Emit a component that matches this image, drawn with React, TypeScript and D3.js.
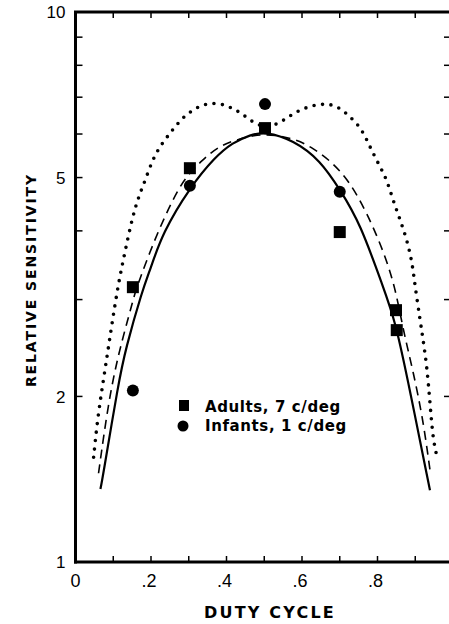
import React from "react";
import * as d3 from "d3";

// duty cycle vs relative sensitivity (log y)
const adults: [number, number][] = [
  [0.152, 3.16], [0.303, 5.2], [0.502, 6.15], [0.7, 3.98], [0.849, 2.87], [0.851, 2.64],
];
const infants: [number, number][] = [
  [0.152, 2.05], [0.303, 4.83], [0.502, 6.8], [0.7, 4.71],
];

const solidCurve: [number, number][] = [
  [0.066, 1.357], [0.071, 1.41], [0.114, 2.12], [0.132, 2.43], [0.177, 3.12], [0.198, 3.4],
  [0.23, 3.96], [0.304, 4.81], [0.37, 5.45], [0.415, 5.78], [0.463, 5.98], [0.503, 6.06],
  [0.577, 5.85], [0.648, 5.38], [0.701, 4.75], [0.754, 4.13], [0.815, 3.16], [0.847, 2.75],
  [0.886, 2.05], [0.939, 1.35],
];
const dashedCurve: [number, number][] = [
  [0.061, 1.45], [0.087, 1.95], [0.114, 2.4], [0.151, 2.96], [0.159, 3.12], [0.212, 3.9],
  [0.257, 4.55], [0.291, 5.01], [0.336, 5.38], [0.378, 5.69], [0.423, 5.85], [0.495, 6.03],
  [0.577, 5.9], [0.63, 5.66], [0.683, 5.31], [0.728, 4.89], [0.772, 4.31], [0.815, 3.69],
  [0.847, 3.16], [0.868, 2.64], [0.894, 2.23], [0.921, 1.81], [0.939, 1.47],
];
const dottedCurve: [number, number][] = [
  [0.048, 1.55], [0.058, 1.81], [0.071, 2.08], [0.085, 2.4], [0.098, 2.75], [0.114, 3.22],
  [0.132, 3.69], [0.151, 4.24], [0.167, 4.61], [0.185, 4.95], [0.206, 5.43], [0.23, 5.78],
  [0.257, 6.1], [0.283, 6.42], [0.31, 6.63], [0.336, 6.78], [0.362, 6.83], [0.389, 6.8],
  [0.415, 6.69], [0.442, 6.53], [0.468, 6.31], [0.503, 6.15], [0.542, 6.28], [0.577, 6.55],
  [0.614, 6.72], [0.648, 6.8], [0.675, 6.8], [0.701, 6.69], [0.728, 6.44], [0.754, 6.18],
  [0.772, 5.85], [0.788, 5.54], [0.807, 5.23], [0.825, 4.95], [0.841, 4.55], [0.86, 4.19],
  [0.878, 3.85], [0.892, 3.5], [0.899, 3.19], [0.913, 2.75], [0.921, 2.53], [0.931, 2.26],
  [0.939, 1.95], [0.947, 1.67], [0.958, 1.55],
];

const xTickLabels = ["0", ".2", ".4", ".6", ".8"];
const xTickValues = [0, 0.2, 0.4, 0.6, 0.8];
const yTickLabels = ["1", "2", "5", "10"];
const yTickValues = [1, 2, 5, 10];
const yMinorTicks = [2, 3, 4, 5, 6, 7, 8, 9];
const xMinorTicks = [0.1, 0.2, 0.3, 0.4, 0.5, 0.6, 0.7, 0.8, 0.9];
const legendItems = ["Adults, 7 c/deg", "Infants, 1 c/deg"];

const W = 449, H = 624;

export default function App() {
  const x = d3.scaleLinear().domain([0, 1]).range([75.5, 453]);
  const y = d3.scaleLog().domain([1, 10]).range([562, 12]);
  const line = d3.line<[number, number]>()
    .x(d => x(d[0])).y(d => y(d[1]))
    .curve(d3.curveBasis);

  const boldFont = "'DejaVu Sans', sans-serif";
  const tickFont = "'Liberation Sans', Arial, sans-serif";

  return (
    <div style={{ position: "absolute", left: 0, top: 0 }}>
      <svg width={W} height={H} style={{ display: "block", background: "#fff" }}>
        {/* frame */}
        <line x1={x(0)} x2={x(0)} y1={y(10) - 1} y2={y(1) + 1.5} stroke="#000" strokeWidth={3} />
        <line x1={x(0) - 1.5} x2={W} y1={y(1)} y2={y(1)} stroke="#000" strokeWidth={3} />
        <line x1={x(0) - 1.5} x2={W} y1={y(10)} y2={y(10)} stroke="#000" strokeWidth={3} />
        <line x1={x(1)} x2={x(1)} y1={y(10)} y2={y(1)} stroke="#000" strokeWidth={3} />

        {/* minor ticks */}
        {yMinorTicks.map(v => (
          <g key={"y" + v}>
            <line x1={x(0)} x2={x(0) + 7} y1={y(v)} y2={y(v)} stroke="#000" strokeWidth={1.5} />
            <line x1={x(1) - 9} x2={x(1)} y1={y(v)} y2={y(v)} stroke="#000" strokeWidth={1.5} />
          </g>
        ))}
        {xMinorTicks.map(v => (
          <g key={"x" + v}>
            <line x1={x(v)} x2={x(v)} y1={y(1)} y2={y(1) - 6} stroke="#000" strokeWidth={1.5} />
            <line x1={x(v)} x2={x(v)} y1={y(10)} y2={y(10) + 6} stroke="#000" strokeWidth={1.5} />
          </g>
        ))}

        {/* tick labels */}
        {yTickValues.map((v, i) => (
          <text key={"yl" + v} x={x(0) - 10} y={y(v)} dy="0.36em" textAnchor="end"
            fontFamily={tickFont} fontSize={17} fill="#000">{yTickLabels[i]}</text>
        ))}
        {xTickValues.map((v, i) => (
          <text key={"xl" + v} x={x(v) - (i === 0 ? 0 : 2)} y={587} textAnchor="middle"
            fontFamily={tickFont} fontSize={18} fill="#000">{xTickLabels[i]}</text>
        ))}

        {/* axis titles */}
        <text x={270} y={618} textAnchor="middle" fontFamily={boldFont} fontWeight="bold"
          fontSize={16} letterSpacing={2.2} fill="#000">DUTY CYCLE</text>
        <text transform="translate(36,280) rotate(-90)" textAnchor="middle" fontFamily={boldFont}
          fontWeight="bold" fontSize={14} letterSpacing={1.9} fill="#000">RELATIVE SENSITIVITY</text>

        {/* curves */}
        <path d={line(solidCurve) ?? ""} fill="none" stroke="#000" strokeWidth={2.2} />
        <path d={line(dashedCurve) ?? ""} fill="none" stroke="#000" strokeWidth={1.6} strokeDasharray="9 6" />
        <path d={line(dottedCurve) ?? ""} fill="none" stroke="#000" strokeWidth={3.6}
          strokeDasharray="0 8.5" strokeLinecap="round" />

        {/* data points */}
        {adults.map((d, i) => (
          <rect key={"a" + i} x={x(d[0]) - 6} y={y(d[1]) - 6} width={12} height={12} fill="#000" />
        ))}
        {infants.map((d, i) => (
          <circle key={"i" + i} cx={x(d[0])} cy={y(d[1])} r={6} fill="#000" />
        ))}

        {/* legend */}
        <rect x={179} y={400} width={10} height={11} fill="#000" />
        <circle cx={183} cy={426} r={5.5} fill="#000" />
        {legendItems.map((t, i) => (
          <text key={t} x={205} y={412 + i * 19} fontFamily={boldFont} fontWeight="bold"
            fontSize={15} letterSpacing={0.6} fill="#000">{t}</text>
        ))}
      </svg>
    </div>
  );
}
